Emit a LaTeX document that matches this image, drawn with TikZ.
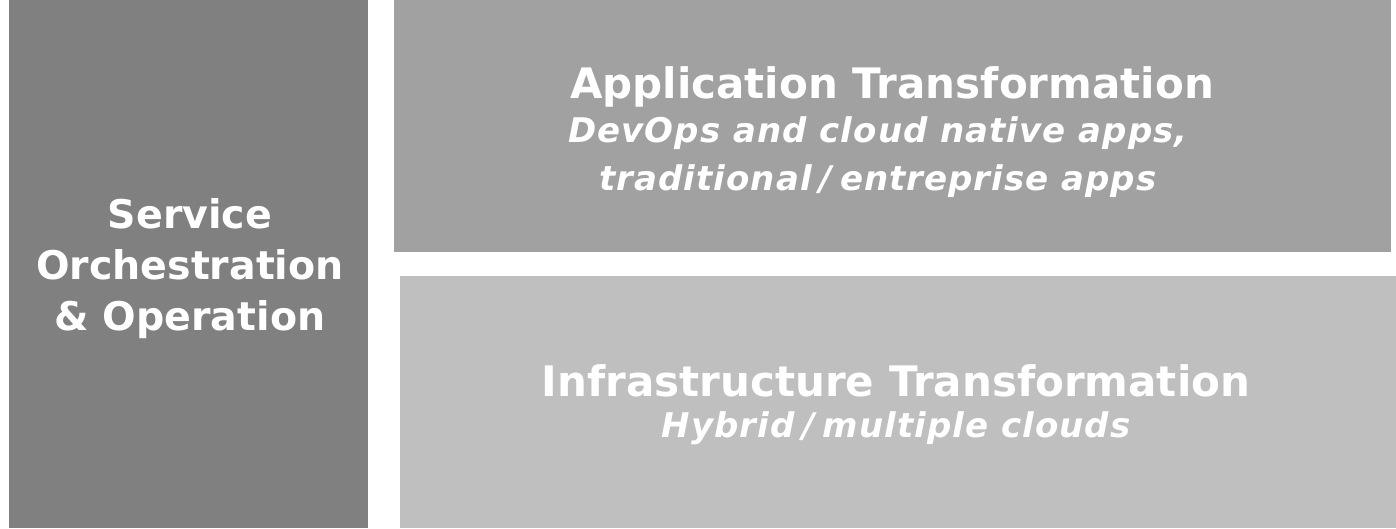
\documentclass[tikz,border=0pt]{standalone}
\usepackage{fontspec}
\setmainfont{DejaVu Sans}
\newfontfamily\subfont[LetterSpace=3]{DejaVu Sans}
\newcommand{\slsh}{\kern8pt/\kern8pt}
\begin{document}
\begin{tikzpicture}[x=1pt,y=-1pt,
  lefttext/.style={text=white,font=\fontsize{39.5}{51}\selectfont\bfseries,align=center,anchor=base},
  ttl/.style={text=white,font=\fontsize{42}{50}\selectfont\bfseries,align=center,anchor=base},
  sub/.style={text=white,font=\subfont\fontsize{34}{48}\selectfont\bfseries\itshape,align=center,anchor=base}]
\useasboundingbox (0,0) rectangle (1396,528);
\fill[fill=white] (0,0) rectangle (1396,528);
\fill[fill=black!50] (9,0) coordinate (lA) rectangle (368,528) coordinate (lB);
\fill[fill=black!37] (394,0) coordinate (tA) rectangle (1391,252) coordinate (tB);
\fill[fill=black!25] (400,276) coordinate (bA) rectangle (1396,528) coordinate (bB);
\node[lefttext] (left) at (190,330) {Service\\Orchestration\\\& Operation};
\node[ttl] (apptitle) at (892,98) {Application Transformation};
\node[sub] (appsub) at (878,190) {DevOps and cloud native apps,\\traditional\slsh entreprise apps};
\node[ttl] (inftitle) at (896,396) {Infrastructure Transformation};
\node[sub] (infsub) at (896,437) {Hybrid\slsh multiple clouds};
\end{tikzpicture}
\end{document}
